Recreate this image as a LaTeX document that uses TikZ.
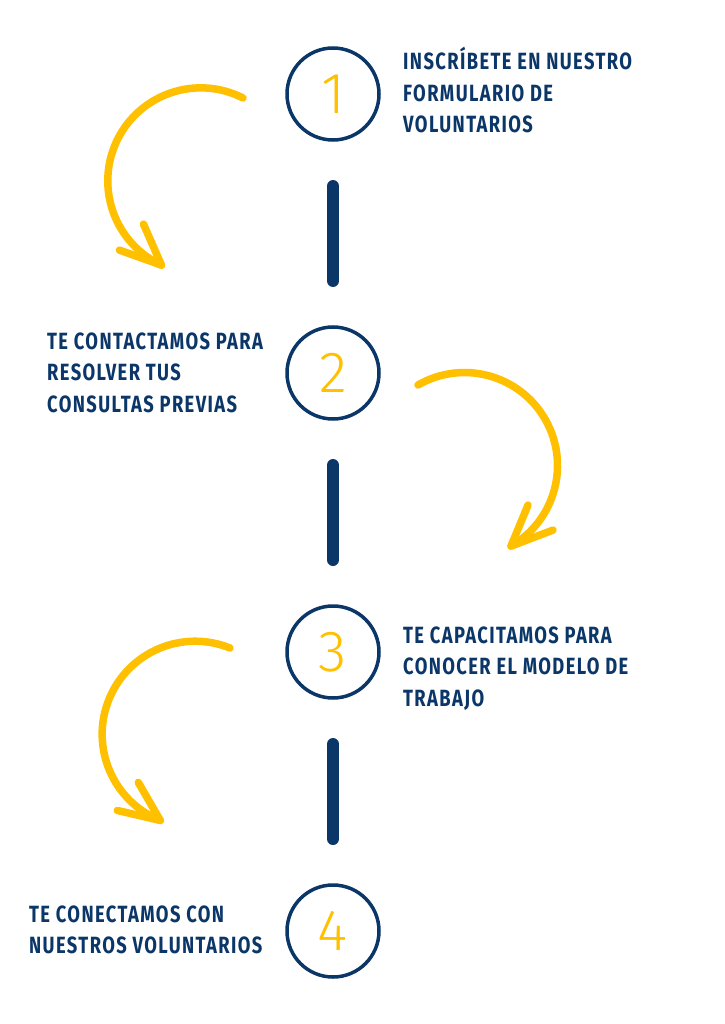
\documentclass[tikz,border=0pt]{standalone}
\usepackage{fontspec}
\usetikzlibrary{calc}
\newfontfamily\stepfont{Fira Sans}[FakeStretch=0.78, LetterSpace=6]
\newfontfamily\numfont{Fira Sans Light}
\definecolor{navy}{HTML}{0B3668}
\definecolor{gold}{HTML}{FFC000}
\tikzset{
  numcircle/.style={circle, draw=navy, line width=3.5pt, minimum size=92pt, inner sep=0pt, outer sep=0pt,
     text=gold, font=\numfont\fontsize{58}{58}\selectfont},
  vline/.style={draw=navy, line width=12pt, line cap=round, shorten <=46pt, shorten >=46pt},
  steptext/.style={anchor=base west, inner sep=0pt, text=navy, font=\stepfont\bfseries\fontsize{23.5}{31.5}\selectfont},
  curvearrow/.style={draw=gold, line width=7.5pt, line cap=round, line join=round}
}
\renewcommand\arraystretch{1}
\begin{document}
\begin{tikzpicture}[x=1pt,y=-1pt]
\useasboundingbox (0,0) rectangle (724,1024);
\fill[white] (0,0) rectangle (724,1024);
% circles
\node[numcircle] (c1) at (333,94) {1};
\node[numcircle] (c2) at (333,373) {2};
\node[numcircle] (c3) at (333,652) {3};
\node[numcircle] (c4) at (333,931) {4};
% vertical connectors
\draw[vline] (c1) -- (c2);
\draw[vline] (c2) -- (c3);
\draw[vline] (c3) -- (c4);
% texts
\node[steptext] (t1) at (403,70) {\begin{tabular}[t]{@{}l@{}}INSCRÍBETE EN NUESTRO\\FORMULARIO DE\\VOLUNTARIOS\end{tabular}};
\node[steptext] (t2) at (47,349) {\begin{tabular}[t]{@{}l@{}}TE CONTACTAMOS PARA\\RESOLVER TUS\\CONSULTAS PREVIAS\end{tabular}};
\node[steptext] (t3) at (403,643) {\begin{tabular}[t]{@{}l@{}}TE CAPACITAMOS PARA\\CONOCER EL MODELO DE\\TRABAJO\end{tabular}};
\node[steptext] (t4) at (29,922) {\begin{tabular}[t]{@{}l@{}}TE CONECTAMOS CON\\NUESTROS VOLUNTARIOS\end{tabular}};
% curved arrows
\draw[curvearrow] (243,98) arc[start angle=-63, end angle=-245, radius=93] coordinate (tip1);
\draw[curvearrow] ($(tip1)+(-18,-41)$) -- (tip1) -- ($(tip1)+(-42,-15)$);
\draw[curvearrow] (418,385) arc[start angle=-120, end angle=60, radius=93] coordinate (tip2);
\draw[curvearrow] ($(tip2)+(17,-41)$) -- (tip2) -- ($(tip2)+(42,-16)$);
\draw[curvearrow] (230,648) arc[start angle=-68, end angle=-248, radius=93] coordinate (tip3);
\draw[curvearrow] ($(tip3)+(-22,-38)$) -- (tip3) -- ($(tip3)+(-43,-10)$);
\end{tikzpicture}
\end{document}
